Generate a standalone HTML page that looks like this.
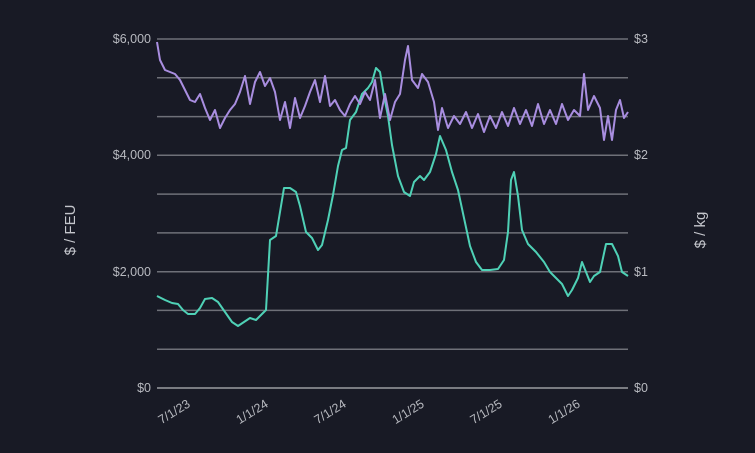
<!DOCTYPE html>
<html><head><meta charset="utf-8"><style>
html,body{margin:0;padding:0;background:#181a25;}
svg{display:block;font-family:"Liberation Sans",sans-serif;}
</style></head><body>
<svg width="755" height="453" viewBox="0 0 755 453">
<rect width="755" height="453" fill="#181a25"/>
<g stroke="#6e7078" stroke-width="1.5">
<line x1="157" x2="628" y1="39" y2="39"/><line x1="157" x2="628" y1="77.8" y2="77.8"/>
<line x1="157" x2="628" y1="116.6" y2="116.6"/><line x1="157" x2="628" y1="155.3" y2="155.3"/>
<line x1="157" x2="628" y1="194.1" y2="194.1"/><line x1="157" x2="628" y1="232.9" y2="232.9"/>
<line x1="157" x2="628" y1="271.7" y2="271.7"/><line x1="157" x2="628" y1="310.4" y2="310.4"/>
<line x1="157" x2="628" y1="349.2" y2="349.2"/><line x1="157" x2="628" y1="388" y2="388" stroke="#9a9ca2"/>
</g>
<g fill="#b8bac0" font-size="12.5">
<text x="151" y="43" text-anchor="end">$6,000</text>
<text x="151" y="159" text-anchor="end">$4,000</text>
<text x="151" y="276" text-anchor="end">$2,000</text>
<text x="151" y="392" text-anchor="end">$0</text>
<text x="634" y="43">$3</text>
<text x="634" y="159">$2</text>
<text x="634" y="276">$1</text>
<text x="634" y="392">$0</text>
</g>
<g fill="#b8bac0" font-size="12.5" text-anchor="end">
<text transform="translate(191,406) rotate(-32)">7/1/23</text>
<text transform="translate(269,406) rotate(-32)">1/1/24</text>
<text transform="translate(347,406) rotate(-32)">7/1/24</text>
<text transform="translate(425,406) rotate(-32)">1/1/25</text>
<text transform="translate(503,406) rotate(-32)">7/1/25</text>
<text transform="translate(581,406) rotate(-32)">1/1/26</text>
</g>
<text transform="translate(75,230) rotate(-90)" fill="#c4c6cc" font-size="15" text-anchor="middle">$ / FEU</text>
<text transform="translate(705,230) rotate(-90)" fill="#c4c6cc" font-size="15" text-anchor="middle">$ / kg</text>
<polyline fill="none" stroke="#4fd1b6" stroke-width="2" stroke-linejoin="round" points="157,296 165,300 172,303 178,304 183,310 188,314 195,314 200,308 205,299 212,298 218,302 225,312 232,322 238,326 244,322 250,318 256,320 262,314 266,310 270,240 276,236 280,212 284,188 290,188 296,192 300,206 306,232 312,238 318,250 322,245 328,220 333,195 338,166 342,150 346,148 350,120 356,112 362,94 368,88 372,82 376,68 380,72 384,96 388,116 392,145 398,176 404,192 410,196 414,182 420,176 424,180 430,172 436,154 440,136 446,150 452,172 458,190 464,218 470,246 476,262 482,270 490,270 498,269 504,260 508,232 511,180 514,172 518,196 522,230 528,244 536,252 544,262 550,272 556,278 562,284 568,296 572,290 578,278 582,262 586,272 590,282 594,276 600,272 606,244 612,244 618,256 622,272 628,276"/>
<polyline fill="none" stroke="#a98ee0" stroke-width="2" stroke-linejoin="round" points="157,42 160,60 165,70 170,72 175,74 180,80 185,90 190,100 195,102 200,94 205,108 210,120 215,110 220,128 225,118 230,110 235,104 240,92 245,76 250,104 255,82 260,72 265,86 270,78 275,92 280,120 285,102 290,128 295,98 300,118 305,106 310,92 315,80 320,102 325,76 330,106 335,100 340,110 345,116 350,104 355,96 360,104 365,92 370,100 375,80 380,118 385,94 390,120 395,102 400,94 405,60 408,46 412,80 418,88 422,74 428,82 434,102 438,130 442,108 448,128 454,116 460,124 466,112 472,128 478,114 484,132 490,116 496,128 502,112 508,126 514,108 520,124 526,110 532,126 538,104 544,124 550,110 556,124 562,104 568,120 574,110 580,116 584,74 588,110 594,96 600,108 604,140 608,116 612,140 616,110 620,100 624,118 628,112"/>
</svg>
</body></html>
